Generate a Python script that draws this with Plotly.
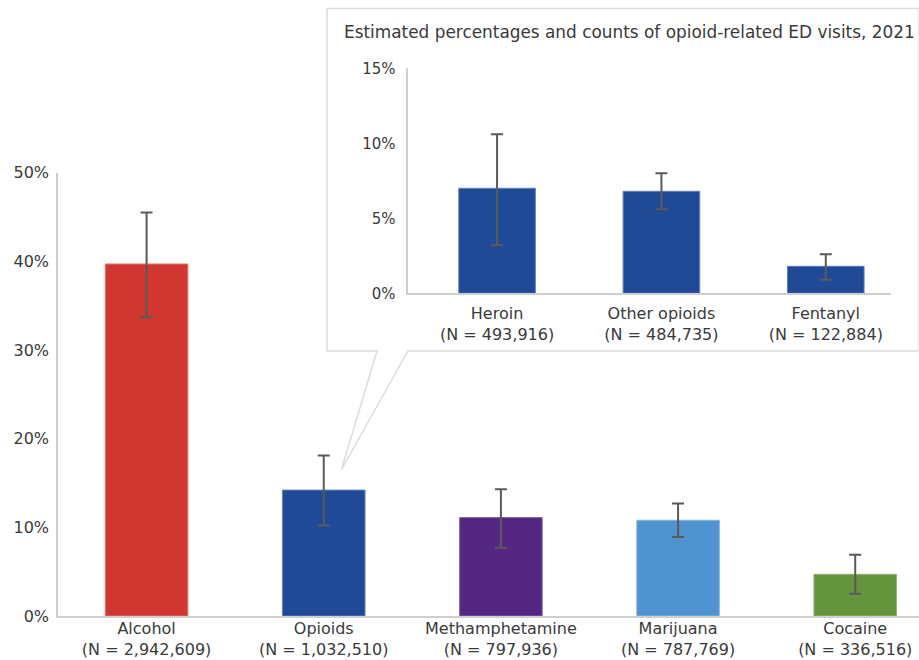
import plotly.graph_objects as go

# ---- main chart data ----
drugs = ["Alcohol", "Opioids", "Methamphetamine", "Marijuana", "Cocaine"]
drug_counts = ["2,942,609", "1,032,510", "797,936", "787,769", "336,516"]
drug_pct = [39.7, 14.2, 11.1, 10.8, 4.7]
drug_low = [33.7, 10.2, 7.7, 8.9, 2.5]
drug_high = [45.5, 18.1, 14.3, 12.7, 6.9]
drug_colors = ["#CF3730", "#214A96", "#542783", "#4F93D0", "#64953D"]
drug_edges = ["#E0706A", "#5E7FBD", "#8565A8", "#86B6E0", "#8FB474"]

# ---- inset data ----
opioids = ["Heroin", "Other opioids", "Fentanyl"]
opioid_counts = ["493,916", "484,735", "122,884"]
opioid_pct = [7.0, 6.8, 1.8]
opioid_low = [3.2, 5.6, 0.9]
opioid_high = [10.6, 8.0, 2.6]
opioid_color = "#214A96"

main_ticks = [0, 10, 20, 30, 40, 50]
inset_ticks = [0, 5, 10, 15]
inset_title = "Estimated percentages and counts of opioid-related ED visits, 2021"

W, H = 919, 660
FONT = "DejaVu Sans"
TXT = "#3a3a3a"
AX = "#cfcfcf"

def px_x(v):
    return v / W

def px_y(v):
    return 1 - v / H

main_labels = [f"{d}<br>(N = {c})" for d, c in zip(drugs, drug_counts)]
inset_labels = [f"{d}<br>(N = {c})" for d, c in zip(opioids, opioid_counts)]

fig = go.Figure()

fig.add_trace(go.Bar(
    x=main_labels, y=drug_pct,
    marker=dict(color=drug_colors, line=dict(color=drug_edges, width=1)),
    error_y=dict(type="data", symmetric=False,
                 array=[h - p for h, p in zip(drug_high, drug_pct)],
                 arrayminus=[p - l for p, l in zip(drug_pct, drug_low)],
                 color="#5a5a5a", thickness=2, width=6),
    xaxis="x", yaxis="y", hoverinfo="skip", showlegend=False,
))

fig.add_trace(go.Bar(
    x=inset_labels, y=opioid_pct,
    marker=dict(color=opioid_color, line=dict(color="#5E7FBD", width=1)),
    error_y=dict(type="data", symmetric=False,
                 array=[h - p for h, p in zip(opioid_high, opioid_pct)],
                 arrayminus=[p - l for p, l in zip(opioid_pct, opioid_low)],
                 color="#5a5a5a", thickness=2, width=6),
    xaxis="x2", yaxis="y2", hoverinfo="skip", showlegend=False,
))

# callout box (drawn in figure-pixel terms via paper coords)
box_pts = [(327, 8.5), (919, 8.5), (919, 351), (408, 351), (341.5, 469.5), (377, 351), (327, 351)]
path = "M " + " L ".join(f"{px_x(x):.5f},{px_y(y):.5f}" for x, y in box_pts) + " Z"

fig.update_layout(
    width=W, height=H,
    margin=dict(l=0, r=0, t=0, b=0, autoexpand=False),
    paper_bgcolor="white",
    plot_bgcolor="rgba(0,0,0,0)",
    font=dict(family=FONT, color=TXT, size=16),
    bargap=0.534,
    xaxis=dict(domain=[px_x(58), 1], range=[-0.5, 4.36], showline=True,
               linecolor=AX, linewidth=1.5, ticks="", showgrid=False, automargin=False,
               tickfont=dict(size=16), ticklabelstandoff=-3, fixedrange=True),
    yaxis=dict(domain=[px_y(616), px_y(172.7)], range=[0, 50], tickmode="array",
               tickvals=main_ticks, ticktext=[f"{v}%" for v in main_ticks],
               showline=True, linecolor=AX, linewidth=1.5, automargin=False,
               ticks="", showgrid=False, zeroline=False, tickfont=dict(size=16),
               ticklabelstandoff=4, fixedrange=True),
    xaxis2=dict(domain=[px_x(408.3), px_x(890.7)], range=[-0.54, 2.395], anchor="y2",
                showline=True, linecolor=AX, linewidth=1.5, ticks="", showgrid=False,
                automargin=False, tickfont=dict(size=16), ticklabelstandoff=5,
                fixedrange=True),
    yaxis2=dict(domain=[px_y(293.3), px_y(68.3)], range=[0, 15], anchor="x2",
                tickmode="array", tickvals=inset_ticks,
                ticktext=[f"{v}%" for v in inset_ticks], showline=True, linecolor=AX,
                linewidth=1.5, ticks="", showgrid=False, zeroline=False, automargin=False,
                tickfont=dict(size=15), ticklabelstandoff=8, fixedrange=True),
    shapes=[dict(type="path", path=path, xref="paper", yref="paper",
                 line=dict(color="#dcdcdc", width=1.5), fillcolor="white", layer="below")],
    annotations=[dict(text=inset_title, x=px_x(341.7), y=px_y(31.7), xref="paper",
                      yref="paper", xanchor="left", yanchor="middle", showarrow=False,
                      font=dict(size=16.9, color=TXT))],
)

fig.write_html("out.html")
